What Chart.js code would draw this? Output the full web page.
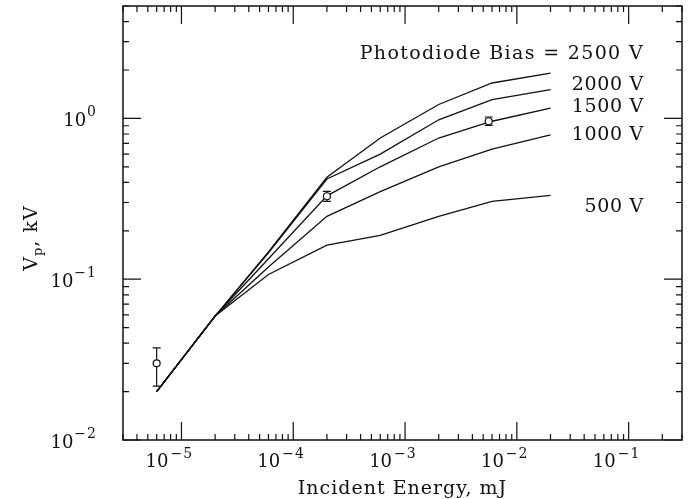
<!DOCTYPE html>
<html>
<head>
<meta charset="utf-8">
<script src="https://cdn.jsdelivr.net/npm/chart.js@4.4.1/dist/chart.umd.min.js"></script>
<style>
  html, body { margin: 0; padding: 0; background: #fff; }
  canvas { display: block; }
</style>
</head>
<body>
<canvas id="chart" width="691" height="499"></canvas>
<script>
// incident energy (mJ) where the curves are sampled
const energy = [6e-6, 2e-5, 6e-5, 2e-4, 6e-4, 2e-3, 6e-3, 2e-2];

// peak voltage (kV) for each photodiode bias
const v2500 = [0.020, 0.059, 0.148, 0.43, 0.755, 1.22, 1.66, 1.91];
const v2000 = [0.020, 0.059, 0.146, 0.42, 0.60, 0.98, 1.31, 1.51];
const v1500 = [0.020, 0.059, 0.134, 0.33, 0.50, 0.755, 0.96, 1.16];
const v1000 = [0.020, 0.059, 0.119, 0.246, 0.35, 0.50, 0.645, 0.79];
const v500  = [0.020, 0.059, 0.107, 0.163, 0.187, 0.246, 0.305, 0.332];

const biasLabels = ['Photodiode Bias = 2500 V', '2000 V', '1500 V', '1000 V', '500 V'];

// measured points with error bars
const measEnergy = [6e-6, 2e-4, 5.6e-3];
const measV      = [0.030, 0.328, 0.96];
const measLow    = [0.0216, 0.305, 0.905];
const measHigh   = [0.0374, 0.352, 1.02];

// labelled decades
const xTickValues = [1e-5, 1e-4, 1e-3, 1e-2, 1e-1];
const yTickValues = [1e-2, 1e-1, 1];

const xTitle = 'Incident Energy, mJ';

const ink = '#111';
const serif = '"DejaVu Serif", serif';

// baselines of the curve labels, right aligned at labelRight
const labelRight = 644;
const labelBaselines = [59, 90, 112, 140, 212];

function toPoints(xs, ys) {
    return xs.map((x, i) => ({ x: x, y: ys[i] }));
}

function logTicks(min, max) {
    const out = [];
    for (let e = Math.floor(Math.log10(min)); e <= Math.ceil(Math.log10(max)); e++) {
        for (let m = 1; m <= 9; m++) {
            const v = m * Math.pow(10, e);
            if (v >= min * 0.999 && v <= max * 1.001) out.push({ v: v, major: m === 1 });
        }
    }
    return out;
}

function expText(v) {
    const e = Math.round(Math.log10(v));
    return e < 0 ? '\u2212' + Math.abs(e) : String(e);
}

const plotDecor = {
    id: 'plotDecor',

    beforeDatasetsDraw(chart) {
        // error bars sit under the open circles
        const { ctx, scales: { x, y } } = chart;
        ctx.save();
        ctx.strokeStyle = ink;
        ctx.lineWidth = 1.2;
        measEnergy.forEach((e, i) => {
            const px = x.getPixelForValue(e);
            const lo = y.getPixelForValue(measLow[i]);
            const hi = y.getPixelForValue(measHigh[i]);
            ctx.beginPath();
            ctx.moveTo(px, lo); ctx.lineTo(px, hi);
            ctx.moveTo(px - 4, lo); ctx.lineTo(px + 4, lo);
            ctx.moveTo(px - 4, hi); ctx.lineTo(px + 4, hi);
            ctx.stroke();
        });
        ctx.restore();
    },

    afterDraw(chart) {
        const { ctx, chartArea: a, scales: { x, y } } = chart;
        ctx.save();
        ctx.strokeStyle = ink;
        ctx.fillStyle = ink;

        // frame
        ctx.lineWidth = 1.5;
        ctx.strokeRect(a.left, a.top, a.right - a.left, a.bottom - a.top);

        // inward ticks on all four sides
        ctx.lineWidth = 1.2;
        ctx.beginPath();
        logTicks(x.min, x.max).forEach(t => {
            const px = x.getPixelForValue(t.v);
            const len = t.major ? 18 : 6;
            ctx.moveTo(px, a.bottom); ctx.lineTo(px, a.bottom - len);
            ctx.moveTo(px, a.top); ctx.lineTo(px, a.top + len);
        });
        logTicks(y.min, y.max).forEach(t => {
            const py = y.getPixelForValue(t.v);
            const len = t.major ? 18 : 6;
            ctx.moveTo(a.left, py); ctx.lineTo(a.left + len, py);
            ctx.moveTo(a.right, py); ctx.lineTo(a.right - len, py);
        });
        ctx.stroke();

        const baseFont = '18px ' + serif;
        const supFont = '14px ' + serif;

        // x tick labels: 10 with raised exponent
        ctx.textBaseline = 'alphabetic';
        xTickValues.forEach(v => {
            const px = x.getPixelForValue(v);
            ctx.font = baseFont;
            ctx.letterSpacing = '0px';
            ctx.textAlign = 'right';
            ctx.fillText('10', px - 13, a.bottom + 27);
            ctx.font = supFont;
            ctx.letterSpacing = '1px';
            ctx.textAlign = 'left';
            ctx.fillText(expText(v), px - 11, a.bottom + 18);
        });

        // y tick labels, right aligned
        yTickValues.forEach(v => {
            const py = y.getPixelForValue(v);
            const right = 97;
            ctx.font = supFont;
            ctx.letterSpacing = '1px';
            const ws = ctx.measureText(expText(v)).width;
            ctx.textAlign = 'left';
            ctx.fillText(expText(v), right - ws, py - 2);
            ctx.font = baseFont;
            ctx.letterSpacing = '0px';
            ctx.textAlign = 'right';
            ctx.fillText('10', right - ws - 1, py + 8);
        });

        // curve labels (the long first one is set a little looser)
        ctx.font = '19px ' + serif;
        ctx.textAlign = 'right';
        biasLabels.forEach((s, i) => {
            ctx.letterSpacing = i === 0 ? '1.35px' : '0.7px';
            ctx.fillText(s, labelRight, labelBaselines[i]);
        });

        // x axis title
        ctx.textAlign = 'center';
        ctx.letterSpacing = '1px';
        ctx.fillText(xTitle, (a.left + a.right) / 2, 494);

        // y axis title, V with subscript p
        ctx.translate(37, 238);
        ctx.rotate(-Math.PI / 2);
        ctx.textAlign = 'left';
        ctx.font = '19px ' + serif;
        const wV = ctx.measureText('V').width;
        const wRest = ctx.measureText(', kV').width;
        ctx.font = '13px ' + serif;
        const wP = ctx.measureText('p').width;
        let cx = -(wV + wP + wRest) / 2;
        ctx.font = '19px ' + serif;
        ctx.fillText('V', cx, 0);
        cx += wV;
        ctx.font = '13px ' + serif;
        ctx.fillText('p', cx, 5);
        cx += wP;
        ctx.font = '19px ' + serif;
        ctx.fillText(', kV', cx, 0);

        ctx.restore();
    }
};

const curveStyle = {
    borderColor: ink,
    borderWidth: 1.3,
    pointRadius: 0,
    tension: 0,
    fill: false
};

new Chart(document.getElementById('chart'), {
    type: 'line',
    data: {
        datasets: [
            {
                label: 'measured',
                data: toPoints(measEnergy, measV),
                showLine: false,
                pointRadius: 3.5,
                pointBorderWidth: 1.2,
                pointBorderColor: ink,
                pointBackgroundColor: '#fff'
            },
            Object.assign({ label: '2500 V', data: toPoints(energy, v2500) }, curveStyle),
            Object.assign({ label: '2000 V', data: toPoints(energy, v2000) }, curveStyle),
            Object.assign({ label: '1500 V', data: toPoints(energy, v1500) }, curveStyle),
            Object.assign({ label: '1000 V', data: toPoints(energy, v1000) }, curveStyle),
            Object.assign({ label: '500 V', data: toPoints(energy, v500) }, curveStyle)
        ]
    },
    options: {
        responsive: false,
        animation: false,
        layout: {
            padding: { left: 123, right: 9, top: 6, bottom: 59 }
        },
        plugins: {
            legend: { display: false },
            tooltip: { enabled: false }
        },
        scales: {
            x: {
                type: 'logarithmic',
                min: 3e-6,
                max: 0.3,
                display: false
            },
            y: {
                type: 'logarithmic',
                min: 0.01,
                max: 5,
                display: false
            }
        }
    },
    plugins: [plotDecor]
});
</script>
</body>
</html>
